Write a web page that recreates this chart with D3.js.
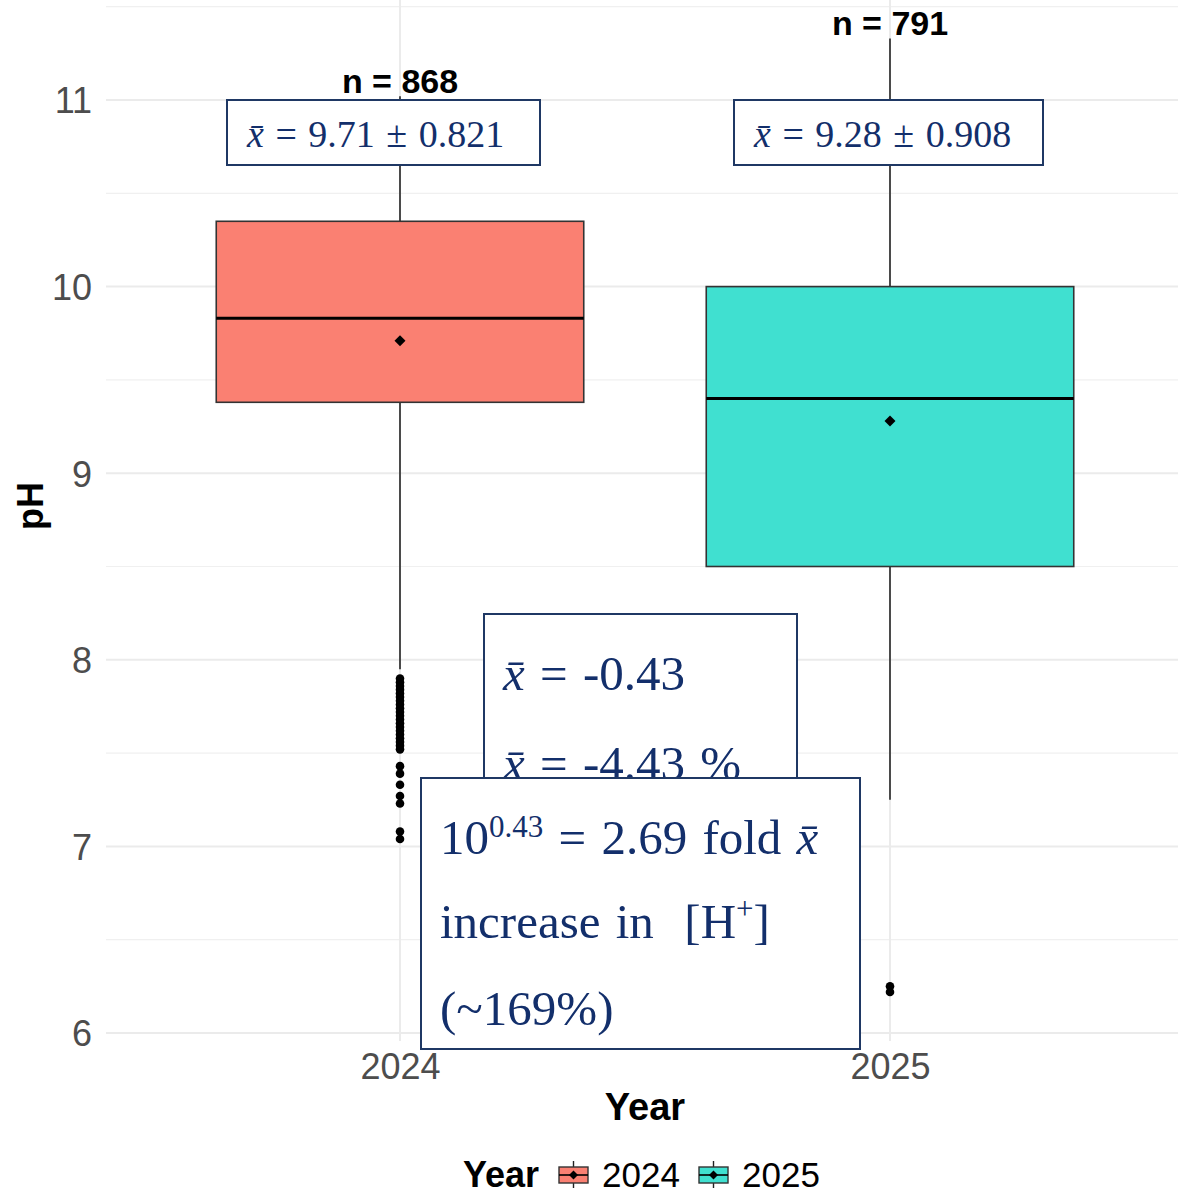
<!DOCTYPE html>
<html>
<head>
<meta charset="utf-8">
<script src="https://cdn.jsdelivr.net/npm/d3@7"></script>
<style>
  html, body { margin: 0; padding: 0; background: #ffffff; }
  svg { display: block; }
</style>
</head>
<body>
<svg id="chart" width="1178" height="1195"></svg>
<script>
// pH by sampling year: box summaries, outliers and summary statistics
const years = ["2024", "2025"];
const nObs = [868, 791];
const meanPH = [9.71, 9.28];
const sdPH = [0.821, 0.908];
const q1PH = [9.38, 8.50];
const medianPH = [9.83, 9.40];
const q3PH = [10.35, 10.00];
const whiskerLow = [7.95, 7.25];
const whiskerHigh = [11.02, 11.33];
const outliers2024 = [7.90, 7.88, 7.86, 7.84, 7.82, 7.80, 7.78, 7.76, 7.74, 7.72, 7.70,
                      7.68, 7.66, 7.64, 7.62, 7.60, 7.58, 7.56, 7.54, 7.52,
                      7.43, 7.39, 7.33, 7.27, 7.23, 7.08, 7.04];
const outliers2025 = [6.25, 6.22];
const yTicks = [6, 7, 8, 9, 10, 11];
const yMinorTicks = [6.5, 7.5, 8.5, 9.5, 10.5, 11.5];
const fillColors = ["#FA8072", "#40E0D0"];

// Change between years
const meanDiff = -0.43;
const meanDiffPct = -4.43;
const foldExponent = 0.43;
const foldChange = 2.69;
const foldPct = 169;

const svg = d3.select("#chart");
const panel = { left: 106, right: 1184, top: -10, bottom: 1041 };

const x = d3.scalePoint().domain(years).range([panel.left, panel.right]).padding(0.6);
const y = d3.scaleLinear().domain([6, 11]).range([1033, 100]);
const boxW = x.step() * 0.75;

const sans = "'Liberation Sans', Arial, sans-serif";
const serif = "'Liberation Serif', 'Times New Roman', serif";
const navy = "#1F3864";
const ink = "#132F6B";

// Grid
const grid = svg.append("g");
grid.selectAll("line.minor").data(yMinorTicks).join("line")
  .attr("x1", panel.left).attr("x2", panel.right)
  .attr("y1", d => y(d)).attr("y2", d => y(d))
  .attr("stroke", "#f0f0f0").attr("stroke-width", 1.2);
grid.selectAll("line.major").data(yTicks).join("line")
  .attr("x1", panel.left).attr("x2", panel.right)
  .attr("y1", d => y(d)).attr("y2", d => y(d))
  .attr("stroke", "#ebebeb").attr("stroke-width", 2);
grid.selectAll("line.vmajor").data(years).join("line")
  .attr("x1", d => x(d)).attr("x2", d => x(d))
  .attr("y1", panel.top).attr("y2", panel.bottom)
  .attr("stroke", "#ebebeb").attr("stroke-width", 2);

// Axes (text only, minimal theme)
const yAxis = d3.axisLeft(y).tickValues(yTicks).tickFormat(d3.format("d")).tickSize(0).tickPadding(14);
const gy = svg.append("g").attr("transform", `translate(${panel.left},0)`).call(yAxis);
gy.select(".domain").remove();
gy.selectAll("text").attr("font-family", sans).attr("font-size", 36).attr("fill", "#4d4d4d")
  .attr("dy", "0.36em");

const xAxis = d3.axisBottom(x).tickSize(0).tickPadding(0);
const gx = svg.append("g").attr("transform", `translate(0,1079)`).call(xAxis);
gx.select(".domain").remove();
gx.selectAll("text").attr("font-family", sans).attr("font-size", 36).attr("fill", "#4d4d4d")
  .attr("dy", 0).attr("y", 0);

svg.append("text").attr("x", (panel.left + panel.right) / 2).attr("y", 1120)
  .attr("text-anchor", "middle").attr("font-family", sans).attr("font-weight", "bold")
  .attr("font-size", 38).attr("fill", "#000").text("Year");
svg.append("text").attr("transform", `translate(43,506) rotate(-90)`)
  .attr("text-anchor", "middle").attr("font-family", sans).attr("font-weight", "bold")
  .attr("font-size", 36).attr("fill", "#000").text("pH");

// Boxplots
const stats = years.map((yr, i) => ({
  year: yr, q1: q1PH[i], med: medianPH[i], q3: q3PH[i],
  lo: whiskerLow[i], hi: whiskerHigh[i], mean: meanPH[i], fill: fillColors[i],
  outliers: i === 0 ? outliers2024 : outliers2025
}));

const boxes = svg.append("g").selectAll("g").data(stats).join("g");
boxes.append("line").attr("x1", d => x(d.year)).attr("x2", d => x(d.year))
  .attr("y1", d => y(d.q3)).attr("y2", d => y(d.hi)).attr("stroke", "#222").attr("stroke-width", 1.6);
boxes.append("line").attr("x1", d => x(d.year)).attr("x2", d => x(d.year))
  .attr("y1", d => y(d.q1)).attr("y2", d => y(d.lo)).attr("stroke", "#222").attr("stroke-width", 1.6);
boxes.append("rect").attr("x", d => x(d.year) - boxW / 2).attr("width", boxW)
  .attr("y", d => y(d.q3)).attr("height", d => y(d.q1) - y(d.q3))
  .attr("fill", d => d.fill).attr("stroke", "#333").attr("stroke-width", 1.6);
boxes.append("line").attr("x1", d => x(d.year) - boxW / 2).attr("x2", d => x(d.year) + boxW / 2)
  .attr("y1", d => y(d.med)).attr("y2", d => y(d.med)).attr("stroke", "#000").attr("stroke-width", 3);
boxes.selectAll("circle").data(d => d.outliers.map(v => ({ year: d.year, v }))).join("circle")
  .attr("cx", d => x(d.year)).attr("cy", d => y(d.v)).attr("r", 4.3).attr("fill", "#000");
const diamond = d3.symbol().type(d3.symbolSquare).size(60);
boxes.append("path").attr("d", diamond)
  .attr("transform", d => `translate(${x(d.year)},${y(d.mean)}) rotate(45)`).attr("fill", "#000");

// Sample size labels above upper whiskers
svg.append("g").selectAll("text").data(stats).join("text")
  .attr("x", d => x(d.year)).attr("y", d => y(d.hi) - 3)
  .attr("text-anchor", "middle").attr("font-family", sans).attr("font-weight", "bold")
  .attr("font-size", 34).attr("fill", "#000")
  .text((d, i) => `n = ${nObs[i]}`);

// Mean ± SD call-outs
const meanBoxOffsets = [[-173, 140], [-156, 153]];
years.forEach((yr, i) => {
  const g = svg.append("g");
  const bx0 = x(yr) + meanBoxOffsets[i][0], bx1 = x(yr) + meanBoxOffsets[i][1];
  g.append("rect").attr("x", bx0).attr("y", 100).attr("width", bx1 - bx0).attr("height", 65)
    .attr("fill", "#fff").attr("stroke", navy).attr("stroke-width", 2);
  const t = g.append("text").attr("x", bx0 + 20).attr("y", 147)
    .attr("font-family", serif).attr("font-size", 38).attr("fill", ink)
    .attr("word-spacing", 2);
  t.append("tspan").attr("font-style", "italic").text("x\u0304");
  t.append("tspan").text(` = ${meanPH[i].toFixed(2)} \u00B1 ${sdPH[i]}`);
});

// Difference call-outs
const diffG = svg.append("g");
diffG.append("rect").attr("x", 484).attr("y", 614).attr("width", 313).attr("height", 200)
  .attr("fill", "#fff").attr("stroke", navy).attr("stroke-width", 2);
const d1 = diffG.append("text").attr("x", 503).attr("y", 690)
  .attr("font-family", serif).attr("font-size", 49).attr("fill", ink).attr("word-spacing", 3);
d1.append("tspan").attr("font-style", "italic").text("x\u0304");
d1.append("tspan").text(` = ${meanDiff.toFixed(2)}`);
const d2 = diffG.append("text").attr("x", 503).attr("y", 780)
  .attr("font-family", serif).attr("font-size", 49).attr("fill", ink).attr("word-spacing", 3);
d2.append("tspan").attr("font-style", "italic").text("x\u0304");
d2.append("tspan").text(` = ${meanDiffPct.toFixed(2)} %`);

diffG.append("rect").attr("x", 421).attr("y", 778).attr("width", 439).attr("height", 271)
  .attr("fill", "#fff").attr("stroke", navy).attr("stroke-width", 2);
const f1 = diffG.append("text").attr("x", 440).attr("y", 854)
  .attr("font-family", serif).attr("font-size", 49).attr("fill", ink).attr("word-spacing", 3);
f1.append("tspan").text("10");
f1.append("tspan").attr("font-size", 31).attr("dy", -17).text(`${foldExponent}`);
f1.append("tspan").attr("dy", 17).text(` = ${foldChange} fold `);
f1.append("tspan").attr("font-style", "italic").text("x\u0304");
const f2 = diffG.append("text").attr("x", 440).attr("y", 938)
  .attr("font-family", serif).attr("font-size", 49).attr("fill", ink).attr("word-spacing", 3);
f2.append("tspan").text("increase in \u00A0[H");
f2.append("tspan").attr("font-size", 31).attr("dy", -19).text("+");
f2.append("tspan").attr("dy", 19).text("]");
diffG.append("text").attr("x", 440).attr("y", 1025)
  .attr("font-family", serif).attr("font-size", 49).attr("fill", ink)
  .text(`(~${foldPct}%)`);

// Legend
const leg = svg.append("g");
leg.append("text").attr("x", 463).attr("y", 1187).attr("font-family", sans)
  .attr("font-weight", "bold").attr("font-size", 36).attr("fill", "#000").text("Year");
const legX = [559, 699];
years.forEach((yr, i) => {
  const k = leg.append("g").attr("transform", `translate(${legX[i]},1161)`);
  k.append("line").attr("x1", 14.5).attr("x2", 14.5).attr("y1", 0).attr("y2", 27)
    .attr("stroke", "#222").attr("stroke-width", 1.4);
  k.append("rect").attr("x", 0).attr("y", 6).attr("width", 29).attr("height", 16)
    .attr("fill", fillColors[i]).attr("stroke", "#333").attr("stroke-width", 1.4);
  k.append("line").attr("x1", 0).attr("x2", 29).attr("y1", 14).attr("y2", 14)
    .attr("stroke", "#000").attr("stroke-width", 1.6);
  k.append("path").attr("d", d3.symbol().type(d3.symbolSquare).size(40))
    .attr("transform", "translate(14.5,14) rotate(45)").attr("fill", "#000");
  leg.append("text").attr("x", legX[i] + 43).attr("y", 1187).attr("font-family", sans)
    .attr("font-size", 35).attr("fill", "#000").text(yr);
});
</script>
</body>
</html>
